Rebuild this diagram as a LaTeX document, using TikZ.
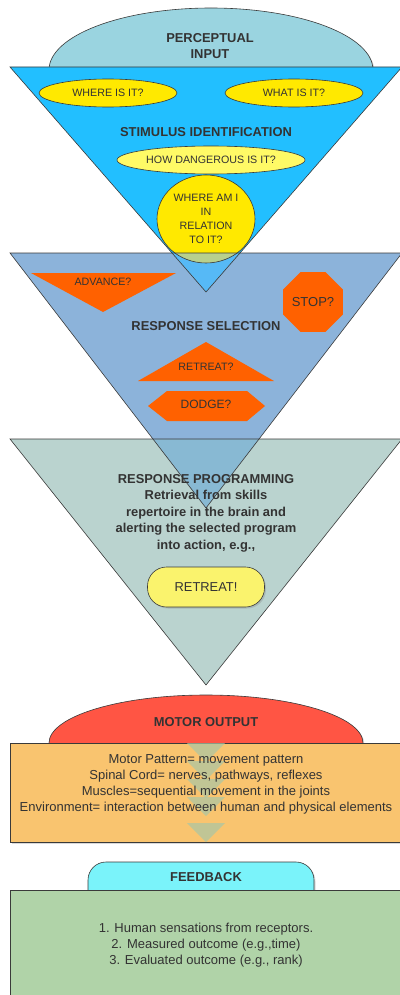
\documentclass[tikz,border=0pt]{standalone}
\usepackage{fontspec}
\setmainfont{Liberation Sans}
\usetikzlibrary{shapes.geometric,shadows}
\definecolor{inputblue}{HTML}{9AD4E0}
\definecolor{stimblue}{HTML}{22BFFF}
\definecolor{stimpale}{HTML}{56B9F6}
\definecolor{selblue}{HTML}{8CB3DA}
\definecolor{selpale}{HTML}{88B9D3}
\definecolor{proggray}{HTML}{BAD3CF}
\definecolor{qyellow}{HTML}{FFE900}
\definecolor{qpale}{HTML}{FFFA66}
\definecolor{qgreen}{HTML}{B8D08E}
\definecolor{actorange}{HTML}{FF6100}
\definecolor{goyellow}{HTML}{FAF36D}
\definecolor{motorred}{HTML}{FF5544}
\definecolor{motorbox}{HTML}{F9C46F}
\definecolor{chevron}{HTML}{A9C6A6}
\definecolor{feedcyan}{HTML}{7AF3FA}
\definecolor{feedbox}{HTML}{B0D3A8}
\definecolor{inktext}{HTML}{333333}
\definecolor{edge}{HTML}{3A3A3A}
\tikzset{
  stage/.style={draw=edge,line width=0.6pt},
  title/.style={font=\bfseries\fontsize{12.9}{16.5}\selectfont,text=inktext,align=center},
  body/.style={font=\fontsize{13}{16}\selectfont,text=inktext,align=center},
  small/.style={font=\fontsize{10.7}{14}\selectfont,text=inktext,align=center},
  question/.style={ellipse,draw=edge,line width=0.6pt,fill=qyellow,small,inner sep=0pt},
  softshadow/.style={drop shadow={shadow xshift=1.5pt,shadow yshift=-1.5pt,opacity=.3}},
}

\begin{document}
\begin{tikzpicture}[x=1pt,y=-1pt]
  \useasboundingbox (0,0) rectangle (399,995);
  % corners of the three funnels
  \coordinate (t1l) at (10,67);  \coordinate (t1r) at (402,67);  \coordinate (t1a) at (206,292);
  \coordinate (t2l) at (10,253); \coordinate (t2r) at (402,253); \coordinate (t2a) at (206,508);
  \coordinate (t3l) at (10,439); \coordinate (t3r) at (402,439); \coordinate (t3a) at (206,685);

  % perceptual input
  \draw[stage,fill=inputblue,softshadow] (211,70) ellipse [x radius=162pt,y radius=62pt];
  \node[title] (input) at (210,46) {PERCEPTUAL\\INPUT};

  % stimulus identification
  \draw[stage,fill=stimblue] (t1l) -- (t1r) -- (t1a) -- cycle;
  \node[question,minimum width=138pt,minimum height=28pt] (where) at (108,93) {WHERE IS IT?};
  \node[question,minimum width=138pt,minimum height=28pt] (what) at (294,93) {WHAT IS IT?};
  \node[title] (stim) at (206,132) {STIMULUS IDENTIFICATION};
  \node[question,fill=qpale,minimum width=188pt,minimum height=28pt] (danger) at (211,160) {HOW DANGEROUS IS IT?};
  \node[question,minimum width=98pt,minimum height=88pt] (self) at (206,219) {WHERE AM I\\IN\\RELATION\\TO IT?};

  % response selection
  \fill[selblue] (t2l) -- (t2r) -- (t2a) -- cycle;
  \begin{scope}
    \clip (t2l) -- (t2r) -- (t2a) -- cycle;
    \draw[stage,fill=stimpale] (t1l) -- (t1r) -- (t1a) -- cycle;
    \draw[stage,fill=qgreen] (self.center) ellipse [x radius=49pt,y radius=44pt];
  \end{scope}
  \draw[stage] (t2l) -- (t2r) -- (t2a) -- cycle;
  \fill[actorange] (31,273) -- (176,273) -- (103,312) -- cycle;
  \node[small] (advance) at (103,282) {ADVANCE?};
  \node[regular polygon,regular polygon sides=8,minimum size=64pt,inner sep=0pt,fill=actorange,
        font=\fontsize{13}{16}\selectfont,text=inktext] (stop) at (313,302) {STOP?};
  \node[title] (select) at (206,326) {RESPONSE SELECTION};
  \fill[actorange] (206,342) -- (274,381) -- (138,381) -- cycle;
  \node[small] (retreatq) at (206,367) {RETREAT?};
  \fill[actorange] (148,406) -- (167,391) -- (247,391) -- (265,406) -- (247,421) -- (167,421) -- cycle;
  \node[small,font=\fontsize{12}{14}\selectfont] (dodge) at (206,404) {DODGE?};

  % response programming
  \fill[proggray] (t3l) -- (t3r) -- (t3a) -- cycle;
  \begin{scope}
    \clip (t3l) -- (t3r) -- (t3a) -- cycle;
    \draw[stage,fill=selpale] (t2l) -- (t2r) -- (t2a) -- cycle;
  \end{scope}
  \draw[stage] (t3l) -- (t3r) -- (t3a) -- cycle;
  \node[title] (program) at (206,513) {RESPONSE PROGRAMMING\\Retrieval from skills\\repertoire in the brain and\\alerting the selected program\\into action, e.g.,};
  \node[draw=edge,line width=0.6pt,fill=goyellow,rounded corners=19pt,minimum width=117pt,
        minimum height=40pt,softshadow,font=\fontsize{12.9}{16}\selectfont,text=inktext] (retreat) at (206,587) {RETREAT!};

  % motor output
  \draw[stage,fill=motorred,softshadow] (206,743) ellipse [x radius=157pt,y radius=48pt];
  \node[title] (motor) at (206,722) {MOTOR OUTPUT};
  \draw[stage,fill=motorbox,softshadow] (10,743) rectangle (405,842);
  \foreach \y in {743,761,779,797,823}
    \fill[chevron,opacity=.7] (187,\y) -- (225,\y) -- (206,\y+19) -- cycle;
  \node[body] (pattern) at (206,784) {Motor Pattern= movement pattern\\Spinal Cord= nerves, pathways, reflexes\\Muscles=sequential movement in the joints\\Environment= interaction between human and physical elements};

  % feedback
  \draw[stage,fill=feedcyan,rounded corners=18pt,softshadow] (88,862) rectangle (314,912);
  \node[title] (feedback) at (206,877) {FEEDBACK};
  \draw[stage,fill=feedbox,softshadow] (10,890) rectangle (405,1000);
  \node[body] (outcome) at (206,945) {1. Human sensations from receptors.\\2. Measured outcome (e.g.,time)\\3. Evaluated outcome (e.g., rank)};
\end{tikzpicture}
\end{document}
